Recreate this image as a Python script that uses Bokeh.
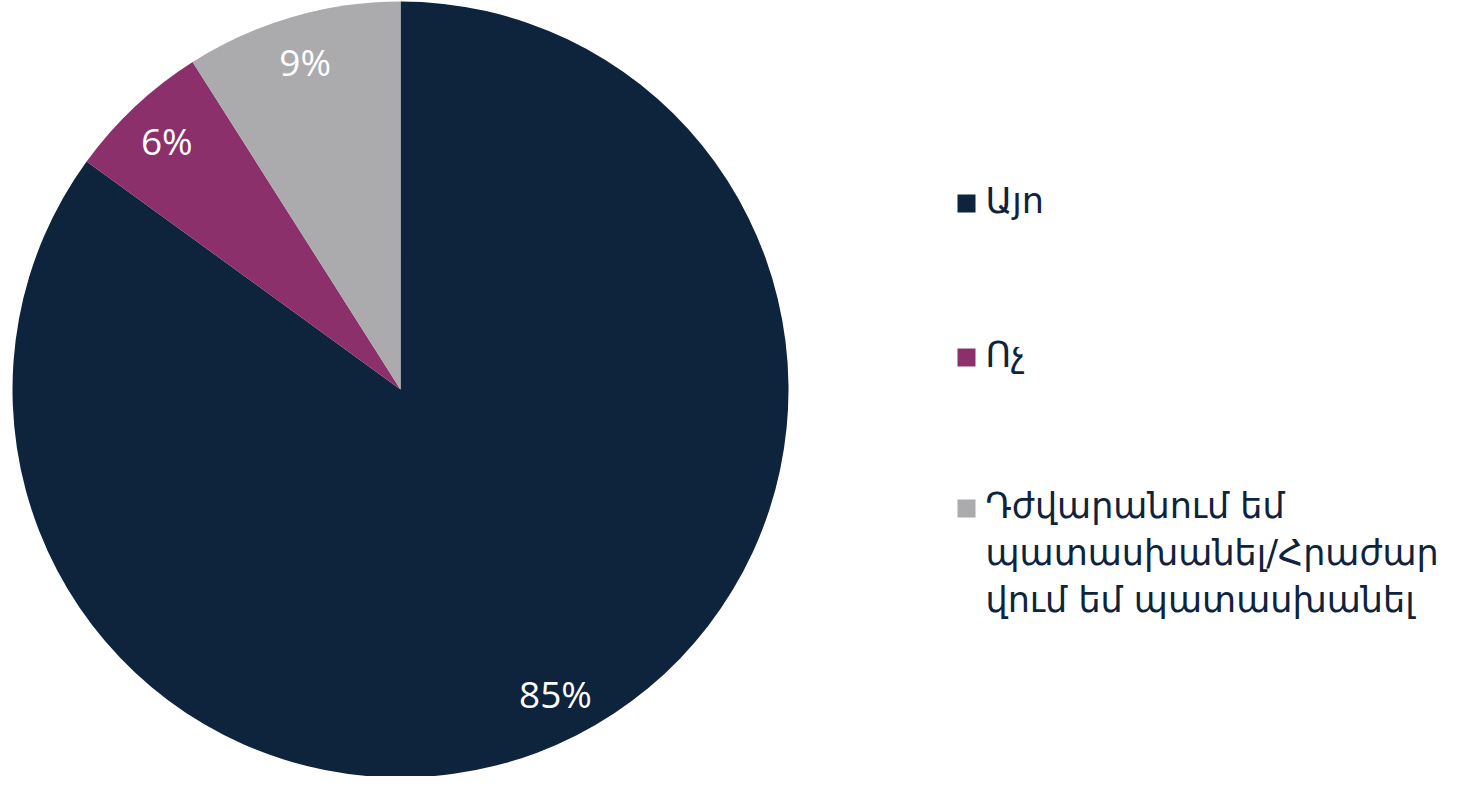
import math
from bokeh.plotting import figure
from bokeh.models import Range1d, ColumnDataSource
from bokeh.core.properties import value
from bokeh.embed import file_html
from bokeh.resources import INLINE

# ---- data ----
categories = ["Այո", "Ոչ", "Դժվարանում եմ\nպատասխանել/Հրաժար\nվում եմ պատասխանել"]
values = [85, 6, 9]
labels = ["85%", "6%", "9%"]
palette = ["#0E233C", "#8B306B", "#ABABAD"]

W, H = 1451, 776
p = figure(width=W, height=H, x_range=Range1d(0, W), y_range=Range1d(0, H),
           output_backend="svg", toolbar_location=None, min_border=0,
           outline_line_color=None, background_fill_color="white",
           border_fill_color="white")
p.axis.visible = False
p.grid.visible = False

cx, cy, r = 400, 387, 388
total = sum(values)
starts, ends, lx, ly = [], [], [], []
cum = 0.0
for v in values:
    a0 = cum / total
    cum += v
    a1 = cum / total
    # clockwise from 12 o'clock
    starts.append(math.pi / 2 - a1 * 2 * math.pi)
    ends.append(math.pi / 2 - a0 * 2 * math.pi)
    mid = math.pi / 2 - (a0 + a1) / 2 * 2 * math.pi
    lx.append(cx + 0.88 * r * math.cos(mid))
    ly.append(cy + 0.88 * r * math.sin(mid))

src = ColumnDataSource(dict(start=starts, end=ends, color=palette, lx=lx, ly=ly, label=labels))
p.wedge(x=cx, y=cy, radius=r, start_angle="start", end_angle="end",
        fill_color="color", line_color=None, source=src)
p.text(x="lx", y="ly", text="label", source=src, text_color="white",
       text_font=value("Open Sans"), text_font_size="37px",
       text_align="center", text_baseline="middle")

# ---- legend ----
leg_y = [573, 419, 268]
lsrc = ColumnDataSource(dict(x=[966] * 3, y=leg_y, color=palette,
                             tx=[985] * 3, ty=[y + 23 for y in leg_y], text=categories))
p.scatter(x="x", y="y", marker="square", size=18, fill_color="color",
          line_color=None, source=lsrc)
p.text(x="tx", y="ty", text="text", source=lsrc, text_color="#0E233C",
       text_font=value("DejaVu Sans"), text_font_size="35px",
       text_align="left", text_baseline="top", text_line_height=1.18)

open("out.html", "w").write(file_html(p, INLINE))
